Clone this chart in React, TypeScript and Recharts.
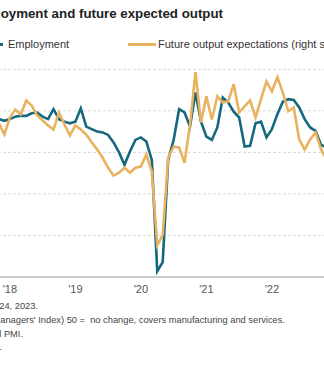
import React from "react";
import { LineChart, Line, XAxis, YAxis, CartesianGrid } from "recharts";

const months = [
  "Nov 17", "Dec 17",
  "Jan 18", "Feb 18", "Mar 18", "Apr 18", "May 18", "Jun 18", "Jul 18", "Aug 18", "Sep 18", "Oct 18", "Nov 18", "Dec 18",
  "Jan 19", "Feb 19", "Mar 19", "Apr 19", "May 19", "Jun 19", "Jul 19", "Aug 19", "Sep 19", "Oct 19", "Nov 19", "Dec 19",
  "Jan 20", "Feb 20", "Mar 20", "Apr 20", "May 20", "Jun 20", "Jul 20", "Aug 20", "Sep 20", "Oct 20", "Nov 20", "Dec 20",
  "Jan 21", "Feb 21", "Mar 21", "Apr 21", "May 21", "Jun 21", "Jul 21", "Aug 21", "Sep 21", "Oct 21", "Nov 21", "Dec 21",
  "Jan 22", "Feb 22", "Mar 22", "Apr 22", "May 22", "Jun 22", "Jul 22", "Aug 22", "Sep 22", "Oct 22", "Nov 22",
];

const employment = [
  54.0, 53.8,
  54.0, 54.3, 54.4, 54.4, 54.7, 54.8, 54.3, 54.0, 55.2, 54.0, 53.7, 53.5,
  53.7, 55.3, 53.1, 52.8, 52.5, 52.4, 52.1, 51.2, 50.0, 48.5, 50.1, 51.5,
  51.8, 51.3, 49.1, 35.7, 36.8, 49.1, 51.5, 55.2, 54.8, 53.1, 57.2, 53.7,
  51.9, 51.5, 53.0, 56.6, 56.0, 54.9, 54.2, 50.7, 50.8, 53.5, 53.7, 51.8,
  52.8, 54.6, 56.1, 56.4, 56.3, 55.4, 54.0, 53.0, 52.6, 50.9, 50.6,
];

const futureOutput = [
  77.0, 74.3,
  78.4, 80.3, 79.1, 82.5, 81.3, 78.9, 77.7, 76.5, 75.5, 79.6, 76.7, 74.1,
  76.5, 75.5, 74.3, 72.4, 70.7, 68.7, 66.3, 64.4, 65.1, 66.3, 65.1, 66.3,
  66.6, 69.5, 65.4, 47.7, 50.1, 68.7, 71.4, 71.2, 67.5, 76.7, 89.3, 77.2,
  83.5, 77.9, 83.5, 82.0, 82.3, 86.4, 79.6, 81.1, 82.5, 78.4, 82.8, 87.1,
  84.7, 88.1, 84.4, 79.9, 80.8, 73.1, 70.7, 73.1, 74.8, 70.7, 68.3,
];

const yearTickMonths = ["Jan 18", "Jan 19", "Jan 20", "Jan 21", "Jan 22"];
const yearTickLabels = ["'18", "'19", "'20", "'21", "'22"];
const leftTicks = [35, 40, 45, 50, 55, 60];
const rightTicks = [40, 50, 60, 70, 80, 90];

const data = months.map((month, i) => ({
  i,
  month,
  employment: employment[i],
  futureOutput: futureOutput[i],
}));

const tickValues = yearTickMonths.map((m) => months.indexOf(m));
const tickLabelFor = (v: number) => {
  const k = tickValues.indexOf(v);
  return k >= 0 ? yearTickLabels[k] : "";
};

const TEAL = "#14697e";
const GOLD = "#e9b25f";
const FONT = "'Liberation Sans', Arial, sans-serif";

const footerLines = [
  { text: "Data compiled Jan. 24, 2023.", right: 286, top: 300 },
  { text: "PMI (Purchasing Managers' Index) 50 =  no change, covers manufacturing and services.", right: 39, top: 314 },
  { text: "Source: S&P Global PMI.", right: 301, top: 328 },
  { text: "© 2023 S&P Global.", right: 322, top: 341 },
];

export default function App() {
  return (
    <div
      style={{
        position: "fixed",
        left: 0,
        top: 0,
        width: 324,
        height: 365,
        overflow: "hidden",
        background: "#fff",
        fontFamily: FONT,
      }}
    >
      <div
        style={{
          position: "absolute",
          right: 101,
          top: 6,
          whiteSpace: "nowrap",
          fontSize: 13.3,
          fontWeight: 700,
          color: "#222",
          lineHeight: 1.15,
        }}
      >
        Employment and future expected output
      </div>

      <div style={{ position: "absolute", left: -20, top: 43, width: 23, height: 2.5, background: TEAL }} />
      <div
        style={{
          position: "absolute",
          left: 8,
          top: 37,
          fontSize: 11,
          lineHeight: "14px",
          color: "#333",
          whiteSpace: "nowrap",
        }}
      >
        Employment
      </div>
      <div style={{ position: "absolute", left: 128, top: 43, width: 28, height: 2.5, background: GOLD }} />
      <div
        style={{
          position: "absolute",
          left: 158,
          top: 37,
          fontSize: 11,
          lineHeight: "14px",
          color: "#333",
          whiteSpace: "nowrap",
        }}
      >
        Future output expectations (right scale)
      </div>

      <div style={{ position: "absolute", left: -11.84, top: 0 }}>
        <LineChart
          width={349.44}
          height={310}
          data={data}
          margin={{ top: 69.3, right: 0, bottom: 3, left: 0 }}
        >
          <CartesianGrid
            vertical={false}
            stroke="#d9d9d9"
            strokeDasharray="3 2"
            yAxisId="left"
          />
          <XAxis
            dataKey="i"
            type="number"
            domain={[-2, 62]}
            ticks={tickValues}
            tickFormatter={tickLabelFor}
            tickLine={false}
            axisLine={{ stroke: "#bdbdbd", strokeWidth: 1.5 }}
            tick={{ fill: "#555", fontSize: 11, fontFamily: FONT }}
            height={30}
            allowDataOverflow
          />
          <YAxis yAxisId="left" hide domain={[35, 60]} ticks={leftTicks} />
          <YAxis yAxisId="right" orientation="right" hide domain={[40, 90]} ticks={rightTicks} />
          <Line
            yAxisId="left"
            dataKey="employment"
            stroke={TEAL}
            strokeWidth={2.6}
            dot={false}
            isAnimationActive={false}
          />
          <Line
            yAxisId="right"
            dataKey="futureOutput"
            stroke={GOLD}
            strokeWidth={2.6}
            dot={false}
            isAnimationActive={false}
          />
        </LineChart>
      </div>

      {footerLines.map((l, k) => (
        <div
          key={k}
          style={{
            position: "absolute",
            right: l.right,
            top: l.top,
            fontSize: 9.3,
            lineHeight: "13.8px",
            color: "#444",
            whiteSpace: "pre",
          }}
        >
          {l.text}
        </div>
      ))}
    </div>
  );
}
